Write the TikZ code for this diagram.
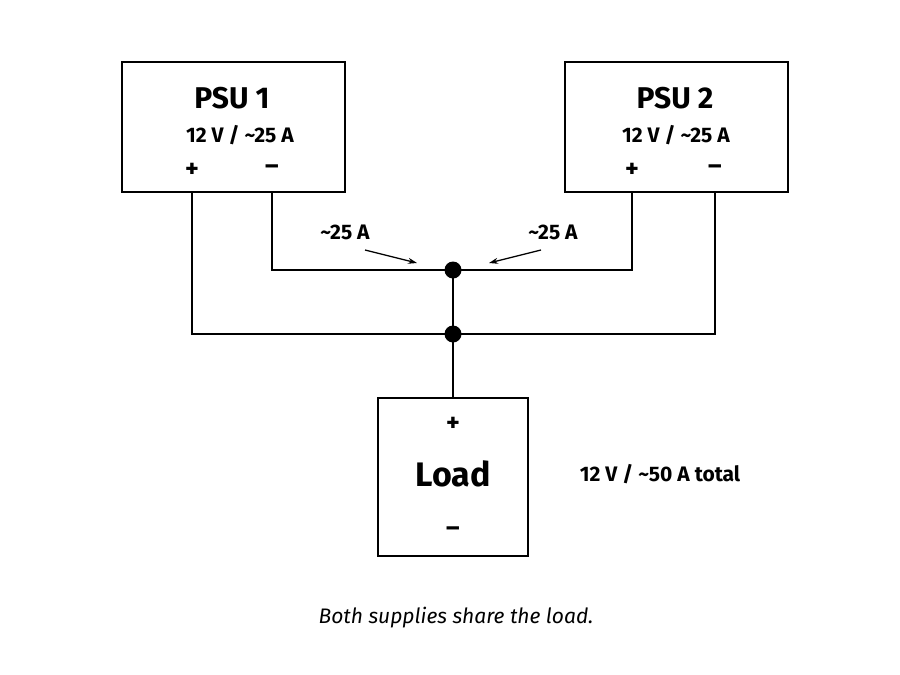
\documentclass[tikz,border=0pt]{standalone}
\usepackage{fontspec}
\setmainfont{Fira Sans}
\usetikzlibrary{arrows.meta}
\begin{document}
\begin{tikzpicture}[x=1pt,y=-1pt,
  box/.style={draw,line width=2.2pt,inner sep=0pt},
  wire/.style={line width=2.2pt},
  dot/.style={circle,fill,inner sep=0pt,minimum size=17pt},
  lbl/.style={font=\fontsize{21}{24}\selectfont\bfseries},
  arr/.style={line width=1.3pt,-{Stealth[length=9pt,width=6pt]}}]
\useasboundingbox (0,0) rectangle (900,675);
\node[box,minimum width=223pt,minimum height=130pt] (p1) at (233.5,127) {};
\node[box,minimum width=223pt,minimum height=130pt] (p2) at (676.5,127) {};
\node[box,minimum width=150pt,minimum height=158pt] (ld) at (453,477) {};
\node[font=\fontsize{30}{34}\selectfont\bfseries] (t1) at (232,98) {PSU 1};
\node[font=\fontsize{30}{34}\selectfont\bfseries] (t2) at (675,98) {PSU 2};
\node[lbl] (r1) at (240,135) {12 V / \textasciitilde25 A};
\node[lbl] (r2) at (676,135) {12 V / \textasciitilde25 A};
\node[lbl,font=\fontsize{26}{28}\selectfont\bfseries] (p1p) at (192,170) {+};
\node[lbl,font=\fontsize{26}{28}\selectfont\bfseries] (p1m) at (272,170) {–};
\node[lbl,font=\fontsize{26}{28}\selectfont\bfseries] (p2p) at (632,170) {+};
\node[lbl,font=\fontsize{26}{28}\selectfont\bfseries] (p2m) at (715,170) {–};
\node[font=\fontsize{34}{38}\selectfont\bfseries] (lt) at (453,474) {Load};
\node[lbl,font=\fontsize{26}{28}\selectfont\bfseries] (lp) at (453,424) {+};
\node[lbl,font=\fontsize{26}{28}\selectfont\bfseries] (lm) at (453,532) {–};
\node[lbl] (tot) at (660,474) {12 V / \textasciitilde50 A total};
\node[font=\fontsize{21}{24}\selectfont\itshape] (cap) at (456,618) {Both supplies share the load.};
\node[lbl] (a1) at (345,232) {\textasciitilde25 A};
\node[lbl] (a2) at (553,232) {\textasciitilde25 A};
\coordinate (j1) at (453,270);
\coordinate (j2) at (453,334);
\coordinate (a1s) at (365,250); \coordinate (a1e) at (417,263);
\coordinate (a2s) at (541,250); \coordinate (a2e) at (489,263);
\draw[wire] (p1.south -| p1p) |- (j2) -| (p2.south -| p2m);
\draw[wire] (p1.south -| p1m) |- (j1) -| (p2.south -| p2p);
\draw[wire] (j1) -- (j2) -- (ld.north);
\node[dot] (d1) at (j1) {};
\node[dot] (d2) at (j2) {};
\draw[arr] (a1s) -- (a1e);
\draw[arr] (a2s) -- (a2e);
\end{tikzpicture}
\end{document}
